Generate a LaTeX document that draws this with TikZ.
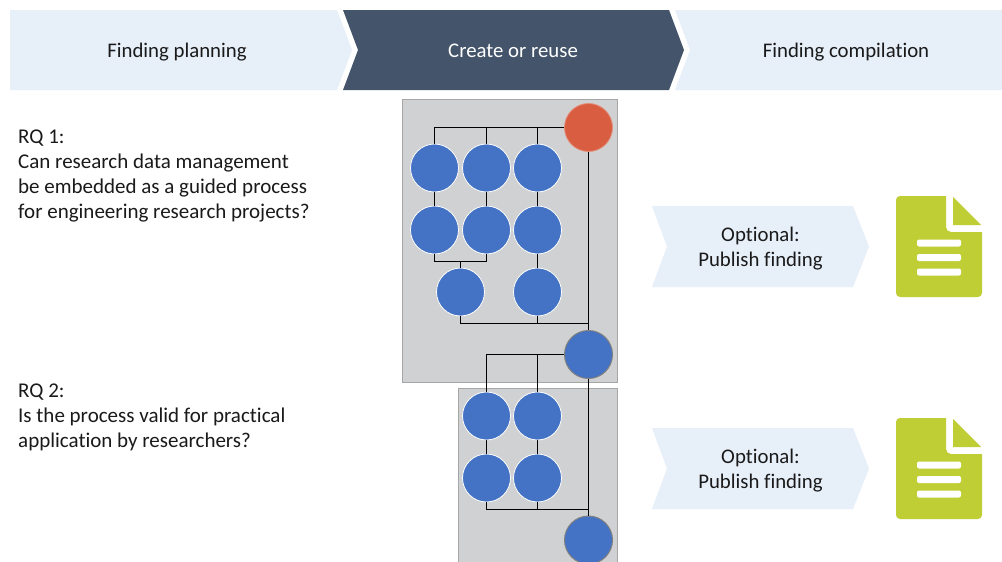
\documentclass[tikz,border=0pt]{standalone}
\usepackage{fontspec}
\setmainfont[Ligatures=NoCommon]{Carlito}
\definecolor{lightband}{HTML}{E7EFF9}
\definecolor{darkband}{HTML}{44546A}
\definecolor{panel}{HTML}{D0D1D3}
\definecolor{paneledge}{HTML}{A6A6A6}
\definecolor{bluec}{HTML}{4472C4}
\definecolor{redc}{HTML}{D95D40}
\definecolor{greenc}{HTML}{BFCE35}
\definecolor{txt}{HTML}{1A1A1A}
\tikzset{
  x=1pt,y=-1pt,
  lbl/.style={font=\fontsize{20.8}{25}\selectfont,text=txt,align=center,inner sep=0pt,anchor=base},
  leftlbl/.style={font=\fontsize{21}{25}\selectfont,text=txt,align=flush left,anchor=base west,inner sep=0pt},
  blue/.style={circle,draw=white,line width=0.8pt,fill=bluec,minimum size=48pt,inner sep=0pt},
  hub/.style={circle,draw=gray,line width=1pt,fill=bluec,minimum size=48pt,inner sep=0pt},
  redn/.style={circle,draw=redc!70!white,line width=0.8pt,fill=redc,minimum size=48pt,inner sep=0pt},
  conn/.style={draw=black,line width=1pt},
  panelbox/.style={fill=panel,draw=paneledge,line width=1pt},
}
\newcommand{\docicon}[1]{%
  \begin{scope}[yshift=#1]
    \fill[greenc] (896,250) [rounded corners=4pt] -- (896,196) [sharp corners] -- (946,196) [rounded corners=5pt] -- (946,232) [sharp corners] -- (982,232) [rounded corners=4pt] -- (982,297) -- (896,297) -- cycle;
    \fill[greenc] (953,197) -- (981,225) -- (953,225) -- cycle;
    \fill[white,rounded corners=2pt] (917,239.5) rectangle (961,246.5);
    \fill[white,rounded corners=2pt] (917,254) rectangle (961,261);
    \fill[white,rounded corners=2pt] (917,268.5) rectangle (961,275.5);
  \end{scope}}
\begin{document}
\begin{tikzpicture}
\useasboundingbox (0,0) rectangle (1002,562);
\fill[white] (0,0) rectangle (1002,562);
% header bands
\fill[lightband] (10,10) -- (337,10) -- (352,50) -- (337,90) -- (10,90) -- cycle;
\fill[darkband] (343,10) -- (669,10) -- (684,50) -- (669,90) -- (343,90) -- (358,50) -- cycle;
\fill[lightband] (675,10) -- (1002,10) -- (1002,90) -- (675,90) -- (690,50) -- cycle;
\node[lbl] (h1) at (177,57) {Finding planning};
\node[lbl,text=white] (h2) at (513,57) {Create or reuse};
\node[lbl] (h3) at (846,57) {Finding compilation};
% left text
\node[leftlbl] (rq1) at (18,218) {RQ 1:\\Can research data management\\be embedded as a guided process\\for engineering research projects?};
\node[leftlbl] (rq2) at (18,447) {RQ 2:\\Is the process valid for practical\\application by researchers?};
% panels
\fill[panelbox] (402,99) rectangle (617,382);
\path[fill=panel] (458,388) rectangle (617,562);
\draw[panelbox] (458,563) -- (458,388) -- (617,388) -- (617,563);
% nodes
\node[redn] (red) at (588.5,127.5) {};
\foreach \n/\x/\y in {a1/434.5/168,a2/486.5/168,a3/537.5/168,b1/434.5/230,b2/486.5/230,b3/537.5/230,c1/460.5/292,c3/537.5/292,d1/486.5/416,d2/537.5/416,e1/486.5/478,e2/537.5/478}
  \node[blue] (\n) at (\x,\y) {};
\node[hub] (hub1) at (588.5,354.5) {};
\node[hub] (hub2) at (588.5,540) {};
\coordinate (j1) at (460.5,261.5);
\coordinate (j2) at (588.5,323.5);
\coordinate (j3) at (588.5,509.5);
% connectors
\draw[conn] (red) -| (a1);
\draw[conn] (red) -| (a2);
\draw[conn] (red) -| (a3);
\draw[conn] (a1) -- (b1);
\draw[conn] (a2) -- (b2);
\draw[conn] (a3) -- (b3);
\draw[conn] (b3) -- (c3);
\draw[conn] (b1) |- (j1);
\draw[conn] (b2) |- (j1);
\draw[conn] (j1) -- (c1);
\draw[conn] (red) -- (hub1);
\draw[conn] (c1) |- (j2);
\draw[conn] (c3) |- (j2);
\draw[conn] (hub1) -| (d1);
\draw[conn] (hub1) -| (d2);
\draw[conn] (d1) -- (e1);
\draw[conn] (d2) -- (e2);
\draw[conn] (hub1) -- (hub2);
\draw[conn] (e1) |- (j3);
\draw[conn] (e2) |- (j3);
% optional chevrons
\fill[lightband] (652,206) -- (853,206) -- (869,246.5) -- (853,287) -- (652,287) -- (667,246.5) -- cycle;
\fill[lightband] (652,428) -- (853,428) -- (869,468.5) -- (853,509) -- (652,509) -- (667,468.5) -- cycle;
\node[lbl] (o1) at (760.5,266) {Optional:\\Publish finding};
\node[lbl] (o2) at (760.5,488) {Optional:\\Publish finding};
\docicon{0pt}
\docicon{-222pt}
\end{tikzpicture}
\end{document}
